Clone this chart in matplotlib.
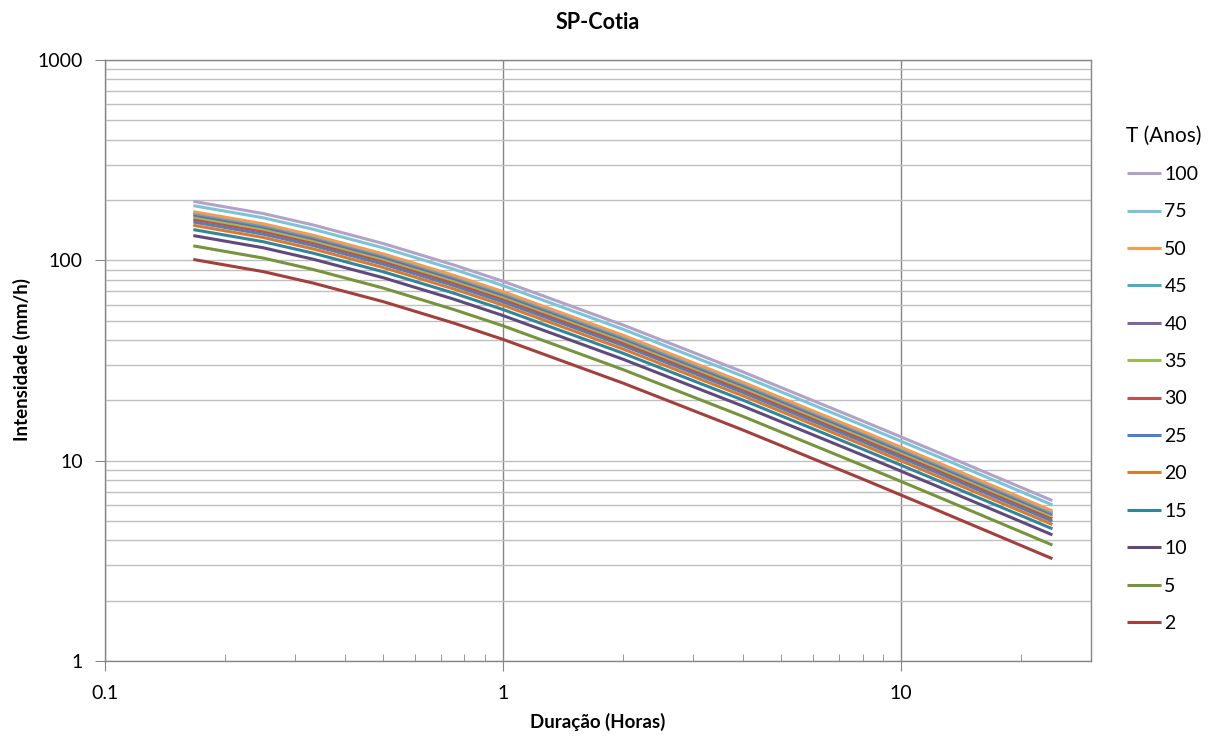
import matplotlib
matplotlib.use('Agg')
import matplotlib.pyplot as plt
from matplotlib.ticker import LogLocator, FixedLocator, NullFormatter

plt.rcParams['font.family'] = ['Lato', 'DejaVu Sans']

# durations (hours)
duracao = [0.1667, 0.25, 0.3333, 0.5, 0.75, 1, 2, 4, 8, 12, 24]

# return periods (anos) and intensities (mm/h)
periodos = ['100', '75', '50', '45', '40', '35', '30', '25', '20', '15', '10', '5', '2']

i_100 = [197.0, 171.2, 150.2, 121.3, 95.0, 78.6, 47.6, 27.77, 15.80, 11.29, 6.32]
i_75 = [187.5, 163.0, 142.9, 115.4, 90.4, 74.8, 45.3, 26.43, 15.03, 10.75, 6.01]
i_50 = [174.9, 152.1, 133.4, 107.7, 84.3, 69.8, 42.3, 24.66, 14.03, 10.03, 5.61]
i_45 = [171.9, 149.4, 131.1, 105.9, 82.9, 68.6, 41.5, 24.24, 13.79, 9.85, 5.51]
i_40 = [168.5, 146.5, 128.4, 103.7, 81.2, 67.2, 40.7, 23.75, 13.51, 9.66, 5.40]
i_35 = [164.6, 143.1, 125.5, 101.4, 79.4, 65.7, 39.8, 23.21, 13.20, 9.44, 5.28]
i_30 = [160.4, 139.4, 122.3, 98.8, 77.3, 64.0, 38.7, 22.61, 12.86, 9.19, 5.15]
i_25 = [155.4, 135.1, 118.5, 95.7, 74.9, 62.0, 37.6, 21.92, 12.47, 8.91, 4.99]
i_20 = [149.6, 130.0, 114.0, 92.1, 72.1, 59.7, 36.1, 21.09, 12.00, 8.57, 4.80]
i_15 = [142.4, 123.8, 108.6, 87.7, 68.7, 56.8, 34.4, 20.08, 11.42, 8.16, 4.57]
i_10 = [132.9, 115.5, 101.3, 81.9, 64.1, 53.0, 32.1, 18.74, 10.66, 7.62, 4.26]
i_5 = [118.1, 102.6, 90.0, 72.7, 56.9, 47.1, 28.5, 16.65, 9.47, 6.77, 3.79]
i_2 = [101.0, 87.8, 77.0, 62.2, 48.7, 40.3, 24.4, 14.24, 8.10, 5.79, 3.24]

series = [i_100, i_75, i_50, i_45, i_40, i_35, i_30, i_25, i_20, i_15, i_10, i_5, i_2]
cores = ['#B3A2C7', '#7DC3D8', '#F59A52', '#4BACC6', '#8064A2', '#9BBB59',
         '#C0504D', '#4F81BD', '#DB7A2C', '#31859C', '#604A7B', '#77933C', '#A33F3C']

fig = plt.figure(figsize=(12.12, 7.36), dpi=100)
ax = fig.add_axes([105/1212, 1 - 661/736, (1091-105)/1212, (661-60)/736])

# draw lowest first so higher T sits on top
for vals, cor, lab in reversed(list(zip(series, cores, periodos))):
    ax.plot(duracao, vals, color=cor, lw=2.2, label=lab, solid_capstyle='butt')

ax.set_xscale('log')
ax.set_yscale('log')
ax.set_xlim(0.1, 30)
ax.set_ylim(1, 1000)

ax.xaxis.set_major_locator(FixedLocator([0.1, 1, 10]))
ax.xaxis.set_minor_locator(LogLocator(base=10, subs=range(2, 10)))
ax.xaxis.set_minor_formatter(NullFormatter())
ax.set_xticklabels(['0.1', '1', '10'])
ax.yaxis.set_major_locator(FixedLocator([1, 10, 100, 1000]))
ax.yaxis.set_minor_locator(LogLocator(base=10, subs=range(2, 10)))
ax.yaxis.set_minor_formatter(NullFormatter())
ax.set_yticklabels(['1', '10', '100', '1000'])

ax.grid(True, which='major', axis='x', color='#868686', lw=1)
ax.grid(True, which='both', axis='y', color='#BFBFBF', lw=1)
ax.set_axisbelow(True)

for s in ax.spines.values():
    s.set_color('#868686')
    s.set_linewidth(1)

ax.tick_params(axis='both', which='major', direction='out', length=7, color='#868686',
               labelsize=14, pad=9)
ax.tick_params(axis='x', which='minor', direction='in', length=5, color='#868686')
ax.tick_params(axis='y', which='minor', length=0)
ax.tick_params(axis='x', which='major', pad=10)

ax.set_title('SP-Cotia', fontsize=15.5, fontweight='bold', pad=22)
ax.set_xlabel('Duração (Horas)', fontsize=13.5, fontweight='bold', labelpad=8)
fig.text(22/1212, 1 - 360/736, 'Intensidade (mm/h)', rotation=90, ha='center', va='center',
         fontsize=13.5, fontweight='bold')

handles, labels = ax.get_legend_handles_labels()
leg = fig.legend(handles[::-1], labels[::-1], title='T (Anos)', loc='upper left',
                 bbox_to_anchor=(1109/1212, 1 - 108/736), frameon=False,
                 fontsize=14, title_fontsize=15, handlelength=1.75,
                 handletextpad=0.2, labelspacing=1.05)
leg._legend_box.align = 'left'

fig.savefig('out.png', dpi=100)
